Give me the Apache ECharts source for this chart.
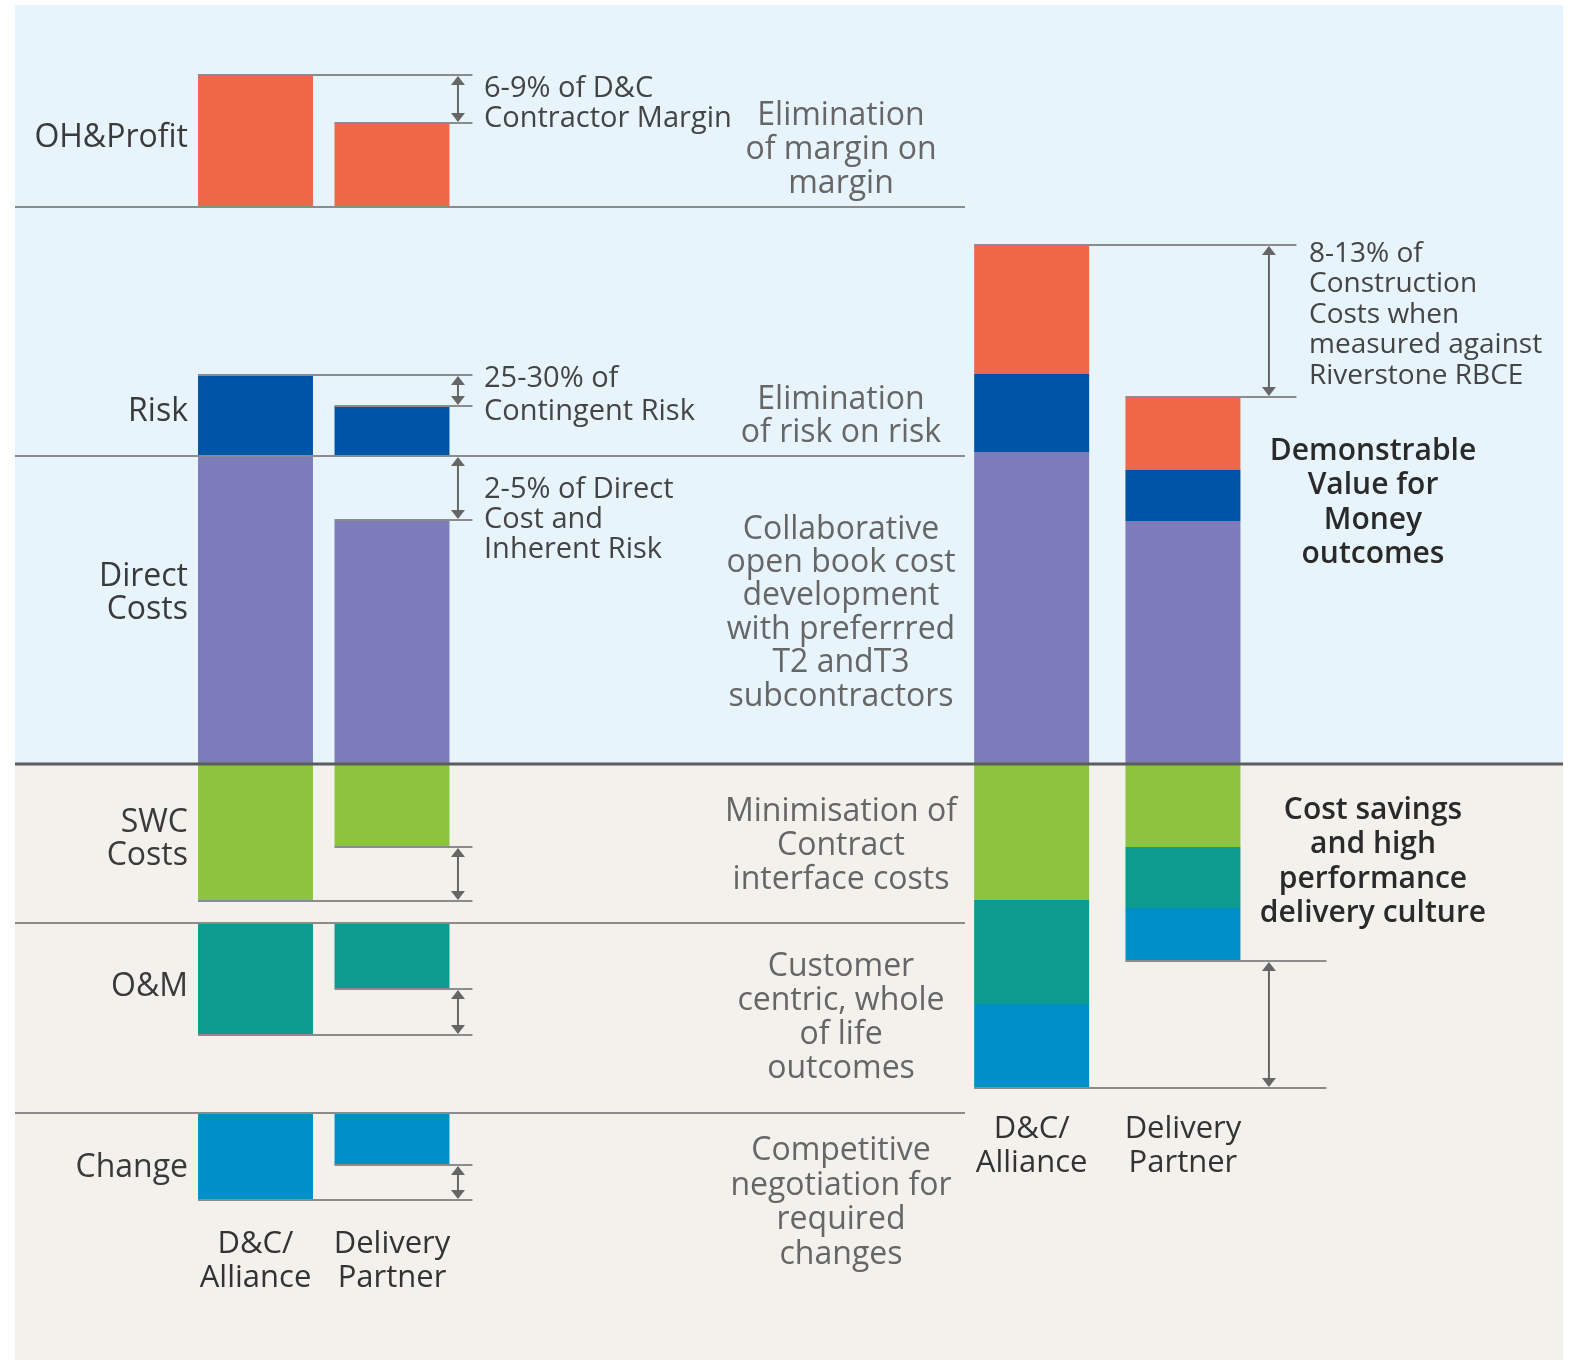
<!DOCTYPE html>
<html>
<head>
<meta charset="utf-8">
<script src="https://cdn.jsdelivr.net/npm/echarts@6/dist/echarts.min.js"></script>
<style>
html,body{margin:0;padding:0;background:#fff;}
#chart{width:1576px;height:1360px;}
</style>
</head>
<body>
<div id="chart"></div>
<script>
// ---------- DATA ----------
const categories = ['D&C/\nAlliance', 'Delivery\nPartner'];
const components = ['OH&Profit', 'Risk', 'Direct\nCosts', 'SWC\nCosts', 'O&M', 'Change'];
// left comparison panels (one value per component)
const leftDC  = [132, 81, 308, 137, 112, 87];
const leftDP  = [84, 50, 244, 83, 66, 52];
// right stacked totals
const rightDC = [129, 78, 312, 136, 104, 84];
const rightDP = [73, 51, 243, 83, 61, 53];

const annotationsLeft = ['6-9% of D&C\nContractor Margin', '25-30% of\nContingent Risk', '2-5% of Direct\nCost and\nInherent Risk'];
const middleTexts = ['Elimination\nof margin on\nmargin', 'Elimination\nof risk on risk',
  'Collaborative\nopen book cost\ndevelopment\nwith preferrred\nT2 andT3\nsubcontractors',
  'Minimisation of\nContract\ninterface costs', 'Customer\ncentric, whole\nof life\noutcomes',
  'Competitive\nnegotiation for\nrequired\nchanges'];
const annotationRight = '8-13% of\nConstruction\nCosts when\nmeasured against\nRiverstone RBCE';
const outcomeTexts = ['Demonstrable\nValue for\nMoney\noutcomes', 'Cost savings\nand high\nperformance\ndelivery culture'];

// ---------- STYLE / LAYOUT ----------
const segColors = ['#F06748', '#0054A6', '#7D7CBA', '#8CC43F', '#0B9B8F', '#0090C8'];
const panelAnchor = [557, 308, 0, 0, -159, -349]; // baseline of each left panel (axis units)
const panelDir = [1, 1, 1, -1, -1, -1];
const stackOrder = [2, 1, 0, 3, 4, 5]; // stack outward from the 0 line
const FONT = 'Open Sans';
const lineGray = '#8c8c8c';
const arrowGray = '#666';
const TY = 3; // text vertical nudge

const chart = echarts.init(document.getElementById('chart'), null, {renderer: 'canvas'});

function arrow(x, y1, y2) {
  const top = Math.min(y1, y2), bot = Math.max(y1, y2);
  const hw = 7, hh = 9;
  return [
    {type: 'line', shape: {x1: x, y1: top + 2, x2: x, y2: bot - 2}, style: {stroke: arrowGray, lineWidth: 2}},
    {type: 'polygon', shape: {points: [[x, top + 1], [x - hw, top + 1 + hh], [x + hw, top + 1 + hh]]}, style: {fill: arrowGray}},
    {type: 'polygon', shape: {points: [[x, bot - 1], [x - hw, bot - 1 - hh], [x + hw, bot - 1 - hh]]}, style: {fill: arrowGray}}
  ];
}
function hline(x1, x2, y, w, c) {
  return {type: 'line', shape: {x1, y1: y, x2, y2: y}, style: {stroke: c || lineGray, lineWidth: w || 2}};
}

const leftBarData = [];
components.forEach((c, p) => {
  leftBarData.push([0, p, leftDC[p]]);
  leftBarData.push([1, p, leftDP[p]]);
});
const BAR_RATIO = 0.842;

const rightSeries = stackOrder.map(p => ({
  type: 'bar',
  name: components[p],
  xAxisIndex: 1, yAxisIndex: 1,
  stack: 'right',
  barWidth: '76%',
  itemStyle: {color: segColors[p]},
  data: [rightDC[p] * panelDir[p], rightDP[p] * panelDir[p]],
  z: 2
}));

const axisLabelStyle = {color: '#333', fontFamily: FONT, fontSize: 31, lineHeight: 34, interval: 0};

chart.setOption({
  animation: false,
  backgroundColor: '#ffffff',
  grid: [
    {left: 187.25, width: 273, top: 5, height: 1200},
    {left: 956, width: 302.6, top: 5, height: 1090}
  ],
  xAxis: [
    {type: 'category', gridIndex: 0, data: categories, axisLine: {show: false}, axisTick: {show: false},
     axisLabel: Object.assign({margin: 22}, axisLabelStyle)},
    {type: 'category', gridIndex: 1, data: categories, axisLine: {show: false}, axisTick: {show: false},
     axisLabel: Object.assign({margin: 17}, axisLabelStyle)}
  ],
  yAxis: [
    {type: 'value', gridIndex: 0, min: -441, max: 759, show: false, splitLine: {show: false}},
    {type: 'value', gridIndex: 1, min: -331, max: 759, show: false, splitLine: {show: false}}
  ],
  series: [
    {
      type: 'custom', name: 'left bars', xAxisIndex: 0, yAxisIndex: 0, z: 2,
      encode: {x: 0, y: 2},
      data: leftBarData,
      renderItem(params, api) {
        const cat = api.value(0), p = api.value(1), v = api.value(2);
        const base = panelAnchor[p], dir = panelDir[p];
        const a = api.coord([cat, base]), b = api.coord([cat, base + dir * v]);
        const w = api.size([1, 0])[0] * BAR_RATIO;
        return {type: 'rect', shape: {x: a[0] - w / 2, y: Math.min(a[1], b[1]), width: w, height: Math.abs(a[1] - b[1])},
                style: {fill: segColors[p]}};
      }
    },
    {
      type: 'custom', name: 'left guides', xAxisIndex: 0, yAxisIndex: 0, z: 5,
      encode: {x: 0, y: 1},
      data: components.map((c, p) => [1, panelAnchor[p], p]),
      renderItem(params, api) {
        const p = api.value(2);
        const base = panelAnchor[p], dir = panelDir[p];
        const w = api.size([1, 0])[0] * BAR_RATIO;
        const dc = api.coord([0, base + dir * leftDC[p]]);
        const dp = api.coord([1, base + dir * leftDP[p]]);
        const dcL = dc[0] - w / 2, dpL = dp[0] - w / 2, dpR = dp[0] + w / 2;
        const end = dpR + 23;
        return {type: 'group', children: [
          hline(dcL, end, dc[1]),
          hline(dpL, end, dp[1])
        ].concat(arrow(dpR + 8.5, dc[1], dp[1]))};
      }
    },
    ...rightSeries,
    {
      type: 'custom', name: 'right guides', xAxisIndex: 1, yAxisIndex: 1, z: 5,
      encode: {x: 0, y: 1},
      data: [[1, 0, 1], [1, 0, -1]],
      renderItem(params, api) {
        const sgn = api.value(2);
        let sDC = 0, sDP = 0;
        components.forEach((c, p) => { if (panelDir[p] === sgn) { sDC += rightDC[p]; sDP += rightDP[p]; } });
        const w = api.size([1, 0])[0] * 0.76;
        const dc = api.coord([0, sgn * sDC]);
        const dp = api.coord([1, sgn * sDP]);
        const dcL = dc[0] - w / 2, dpL = dp[0] - w / 2, dpR = dp[0] + w / 2;
        const end = sgn > 0 ? dpR + 56 : dpR + 86;
        return {type: 'group', children: [
          hline(dcL, end, dc[1]),
          hline(dpL, end, dp[1])
        ].concat(arrow(dpR + 28.5, dc[1], dp[1]))};
      }
    }
  ]
});

// ---------- backgrounds, separators, texts ----------
const yPix = v => chart.convertToPixel({yAxisIndex: 0}, v);
const y0 = yPix(0);

function txt(text, x, y, o) {
  return {type: 'text', x, y: y + TY, z: 30,
    style: Object.assign({text, fill: '#333', fontFamily: FONT, fontSize: 32, fontWeight: 'normal',
      align: 'center', verticalAlign: 'middle', textAlign: 'center', textVerticalAlign: 'middle', lineHeight: 34}, o || {})};
}

const g = [];
g.push({type: 'rect', z: -10, shape: {x: 15, y: 5, width: 1548, height: y0 - 5}, style: {fill: '#E7F4FC'}});
g.push({type: 'rect', z: -10, shape: {x: 15, y: y0, width: 1548, height: 1360 - y0}, style: {fill: '#F3F1EC'}});
// panel separators
[panelAnchor[0], panelAnchor[1], panelAnchor[4], panelAnchor[5]].forEach(v => {
  g.push(Object.assign(hline(15, 965, yPix(v)), {z: 6}));
});
g.push(Object.assign(hline(15, 1563, y0, 3, '#5c5c5c'), {z: 8}));

// row labels
const rowLabelY = [135, 409, 590, 836, 984, 1165];
components.forEach((c, p) => {
  g.push(txt(c, 188, rowLabelY[p], {align: 'right', textAlign: 'right', fontSize: 32, lineHeight: 33, fill: '#3a3a3a'}));
});
// left annotations
const annY = [100.5, 392, 517];
const annLH = [30, 32.5, 30];
annotationsLeft.forEach((t, i) => {
  g.push(txt(t, 484, annY[i], {align: 'left', textAlign: 'left', fontSize: 29, lineHeight: annLH[i], fill: '#444'}));
});
// middle texts
const midY = [147, 413.5, 610, 843, 1015, 1200];
const midLH = [34, 33, 33.4, 34, 33.8, 34.5];
middleTexts.forEach((t, i) => {
  g.push(txt(t, 841, midY[i], {fontSize: 32, lineHeight: midLH[i], fill: '#666666', fontWeight: 500}));
});
// right annotation
g.push(txt(annotationRight, 1309, 312, {align: 'left', textAlign: 'left', fontSize: 28, lineHeight: 30.5, fill: '#444'}));
// outcomes
g.push(txt(outcomeTexts[0], 1373, 500, {fontSize: 30, lineHeight: 34.3, fontWeight: 600, fill: '#2a2a2a'}));
g.push(txt(outcomeTexts[1], 1373, 859, {fontSize: 30, lineHeight: 34.5, fontWeight: 600, fill: '#2a2a2a'}));

chart.setOption({graphic: {elements: g}});
</script>
</body>
</html>
